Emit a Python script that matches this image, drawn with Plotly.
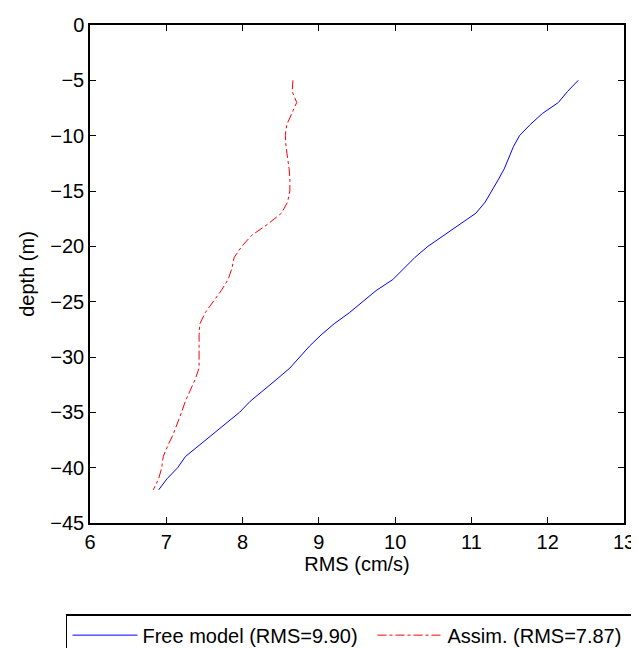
import plotly.graph_objects as go

# depth levels (m) and RMS error profiles (cm/s)
depth = [-5, -6, -7, -8, -9, -10, -11, -12, -13, -14, -15, -16, -17, -18, -19,
         -20, -21, -22, -23, -24, -25, -26, -27, -28, -29, -30, -31, -32, -33,
         -34, -35, -36, -37, -38, -39, -40, -41, -42]

rms_free = [12.40, 12.26, 12.14, 11.93, 11.77, 11.63, 11.55, 11.49, 11.43, 11.35,
            11.27, 11.18, 11.06, 10.85, 10.65, 10.43, 10.26, 10.12, 9.97, 9.75,
            9.57, 9.40, 9.20, 9.03, 8.88, 8.75, 8.62, 8.45, 8.27, 8.10,
            7.96, 7.78, 7.60, 7.42, 7.25, 7.15, 7.01, 6.90]

rms_assim = [8.66, 8.65, 8.71, 8.65, 8.58, 8.56, 8.57, 8.59, 8.61, 8.62,
             8.62, 8.59, 8.51, 8.33, 8.12, 7.99, 7.89, 7.86, 7.81, 7.72,
             7.62, 7.51, 7.44, 7.43, 7.43, 7.43, 7.43, 7.38, 7.31, 7.25,
             7.20, 7.15, 7.09, 7.02, 6.96, 6.94, 6.90, 6.83]

names = ['Free model (RMS=9.90)', 'Assim. (RMS=7.87)']

xticks = [6, 7, 8, 9, 10, 11, 12, 13]
yticks = [0, -5, -10, -15, -20, -25, -30, -35, -40, -45]

font = dict(family='Liberation Sans, Arial, sans-serif', size=20, color='black')

fig = go.Figure()
fig.add_trace(go.Scatter(x=rms_free, y=depth, mode='lines', name=names[0],
                         line=dict(color='rgb(0,0,255)', width=1)))
fig.add_trace(go.Scatter(x=rms_assim, y=depth, mode='lines', name=names[1],
                         line=dict(color='rgb(255,0,0)', width=1, dash='dashdot')))

axis = dict(showline=True, linecolor='black', linewidth=1.5, mirror='ticks',
            ticks='inside', ticklen=6, tickcolor='black', showgrid=False,
            zeroline=False, tickfont=font, automargin=False)

fig.update_layout(
    width=639, height=648,
    margin=dict(l=82, r=23, t=17, b=133, autoexpand=False),
    paper_bgcolor='white', plot_bgcolor='white',
    font=font,
    xaxis=dict(axis, range=[6, 13], tickvals=xticks,
               title=dict(text='RMS (cm/s)', font=font, standoff=3)),
    yaxis=dict(axis, range=[-45, 0], tickvals=yticks,
               title=dict(text='depth (m)', font=font, standoff=10)),
    legend=dict(orientation='h', x=-0.045, xanchor='left', y=-0.183, yanchor='top',
                bordercolor='black', borderwidth=1.5, bgcolor='white',
                font=font, entrywidth=225, itemwidth=65),
    showlegend=True,
)

fig.write_html("out.html")
